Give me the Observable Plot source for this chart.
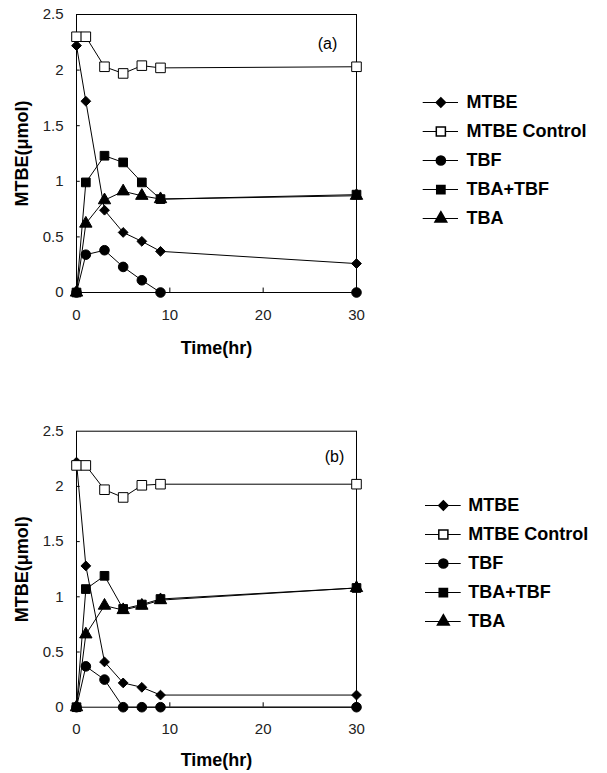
<!DOCTYPE html>
<html>
<head>
<meta charset="utf-8">
<script src="https://cdn.jsdelivr.net/npm/d3@7"></script>
<script src="https://cdn.jsdelivr.net/npm/@observablehq/plot@0.6"></script>
<style>
  body { margin: 0; background: #fff; }
  #root { position: relative; width: 607px; height: 773px; overflow: hidden; background: #fff; }
  #root > div { position: absolute; }
  svg { font-family: "Liberation Sans", Arial, sans-serif; background: transparent; }
</style>
</head>
<body>
<div id="root">
  <div id="chartA" style="left:0;top:0"></div>
  <div id="legendA" style="left:370px;top:0"></div>
  <div id="chartB" style="left:0;top:386px"></div>
  <div id="legendB" style="left:370px;top:386px"></div>
</div>
<script>
// ---- data ----
const times = [0, 1, 3, 5, 7, 9, 30];
const seriesNames = ["MTBE", "MTBE Control", "TBF", "TBA+TBF", "TBA"];
const xTicks = [0, 10, 20, 30];
const yTicks = [0, 0.5, 1, 1.5, 2, 2.5];

// panel (a)
const mtbeA    = [2.22, 1.72, 0.74, 0.54, 0.46, 0.37, 0.26];
const controlA = [2.30, 2.30, 2.03, 1.97, 2.04, 2.02, 2.03];
const tbfA     = [0, 0.34, 0.38, 0.23, 0.11, 0, 0];
const tbaTbfA  = [0, 0.99, 1.23, 1.17, 0.99, 0.84, 0.88];
const tbaA     = [0, 0.62, 0.83, 0.91, 0.87, 0.84, 0.87];

// panel (b)
const mtbeB    = [2.22, 1.28, 0.41, 0.22, 0.18, 0.11, 0.11];
const controlB = [2.19, 2.19, 1.97, 1.90, 2.01, 2.02, 2.02];
const tbfB     = [0, 0.37, 0.25, 0, 0, 0, 0];
const tbaTbfB  = [0, 1.07, 1.19, 0.89, 0.93, 0.98, 1.08];
const tbaB     = [0, 0.66, 0.92, 0.88, 0.92, 0.97, 1.08];

const xLabel = "Time(hr)";
const yLabel = "MTBE(\u03bcmol)";

// ---- styles ----
const markerStyle = {
  "MTBE":         {symbol: "diamond2", fill: "black", stroke: "black", r: 4.4},
  "MTBE Control": {symbol: "square",   fill: "white", stroke: "black", r: 5.4},
  "TBF":          {symbol: "circle",   fill: "black", stroke: "black", r: 4.8},
  "TBA+TBF":      {symbol: "square",   fill: "black", stroke: "black", r: 4.9},
  "TBA":          {symbol: "triangle", fill: "black", stroke: "black", r: 4.6}
};

function rowsOf(arrays) {
  const rows = [];
  seriesNames.forEach((s, i) => {
    arrays[i].forEach((v, j) => rows.push({t: times[j], v, s}));
  });
  return rows;
}

function panel(arrays, o) {
  const rows = rowsOf(arrays);
  const marks = [
    Plot.frame({stroke: "black", strokeWidth: 1}),
    Plot.ruleY(yTicks.slice(1, -1), {x1: 0, x2: 0.4, stroke: "black"}),
    Plot.ruleX(xTicks.slice(1, -1), {y1: 0, y2: 0.04, stroke: "black"}),
    Plot.line(rows, {x: "t", y: "v", z: "s", stroke: "black", strokeWidth: 1})
  ];
  for (const s of seriesNames) {
    const m = markerStyle[s];
    marks.push(Plot.dot(rows.filter(d => d.s === s), {
      x: "t", y: "v", symbol: () => m.symbol, r: m.r,
      fill: m.fill, stroke: m.stroke, strokeWidth: 1
    }));
  }
  marks.push(
    Plot.axisX({ticks: xTicks, tickSize: 0, tickPadding: o.xPad, fontSize: 15, fill: "#222", label: null, tickFormat: d => String(d)}),
    Plot.axisY({ticks: yTicks, tickSize: 0, tickPadding: 13, fontSize: 15, fill: "#222", label: null, tickFormat: d => String(d)}),
    Plot.text([xLabel], {frameAnchor: "bottom", dy: o.xLabDy, fontSize: 18, fontWeight: "bold", fill: "black", lineAnchor: "middle"}),
    Plot.text([yLabel], {frameAnchor: "left", dx: -54, rotate: -90, fontSize: 18, fontWeight: "bold", fill: "black", lineAnchor: "middle", textAnchor: "middle"}),
    Plot.text([o.tag], {frameAnchor: "top-right", dx: o.tagDx, dy: o.tagDy, fontSize: 16, fill: "black", textAnchor: "middle", lineAnchor: "middle"})
  );
  return Plot.plot({
    width: 370, height: o.height,
    marginLeft: 76, marginRight: 14, marginTop: o.mt, marginBottom: o.mb,
    x: {domain: [0, 30]},
    y: {domain: [0, 2.5]},
    style: {fontFamily: "Liberation Sans, Arial, sans-serif", background: "transparent"},
    marks
  });
}

function legend(o) {
  const items = seriesNames.map(s => ({s}));
  const marks = [
    Plot.ruleY(items, {y: "s", x1: 0, x2: 1, stroke: "black", strokeWidth: 1})
  ];
  for (const s of seriesNames) {
    const m = markerStyle[s];
    marks.push(Plot.dot([{s}], {x: () => 0.5, y: "s", symbol: () => m.symbol, r: m.r * 0.95, fill: m.fill, stroke: m.stroke}));
  }
  marks.push(Plot.text(items, {x: () => 1, y: "s", text: "s", dx: o.textDx, textAnchor: "start", fontSize: 18, fontWeight: "bold", fill: "black"}));
  return Plot.plot({
    width: 237, height: o.height,
    x: {domain: [0, 1], range: o.xRange, axis: null},
    y: {type: "point", domain: seriesNames, range: o.yRange, padding: 0, axis: null},
    style: {fontFamily: "Liberation Sans, Arial, sans-serif", background: "transparent"},
    marks
  });
}

document.getElementById("chartA").append(panel([mtbeA, controlA, tbfA, tbaTbfA, tbaA],
  {height: 386, mt: 14, mb: 94, xPad: 17, xLabDy: 56, tag: "(a)", tagDx: -29, tagDy: 29}));
document.getElementById("chartB").append(panel([mtbeB, controlB, tbfB, tbaTbfB, tbaB],
  {height: 387, mt: 44.7, mb: 66.3, xPad: 16, xLabDy: 53, tag: "(b)", tagDx: -22, tagDy: 26}));
document.getElementById("legendA").append(legend({height: 386, xRange: [52.7, 88], yRange: [101, 218], textDx: 8}));
document.getElementById("legendB").append(legend({height: 387, xRange: [55, 90.7], yRange: [118, 236], textDx: 7}));
</script>
</body>
</html>
